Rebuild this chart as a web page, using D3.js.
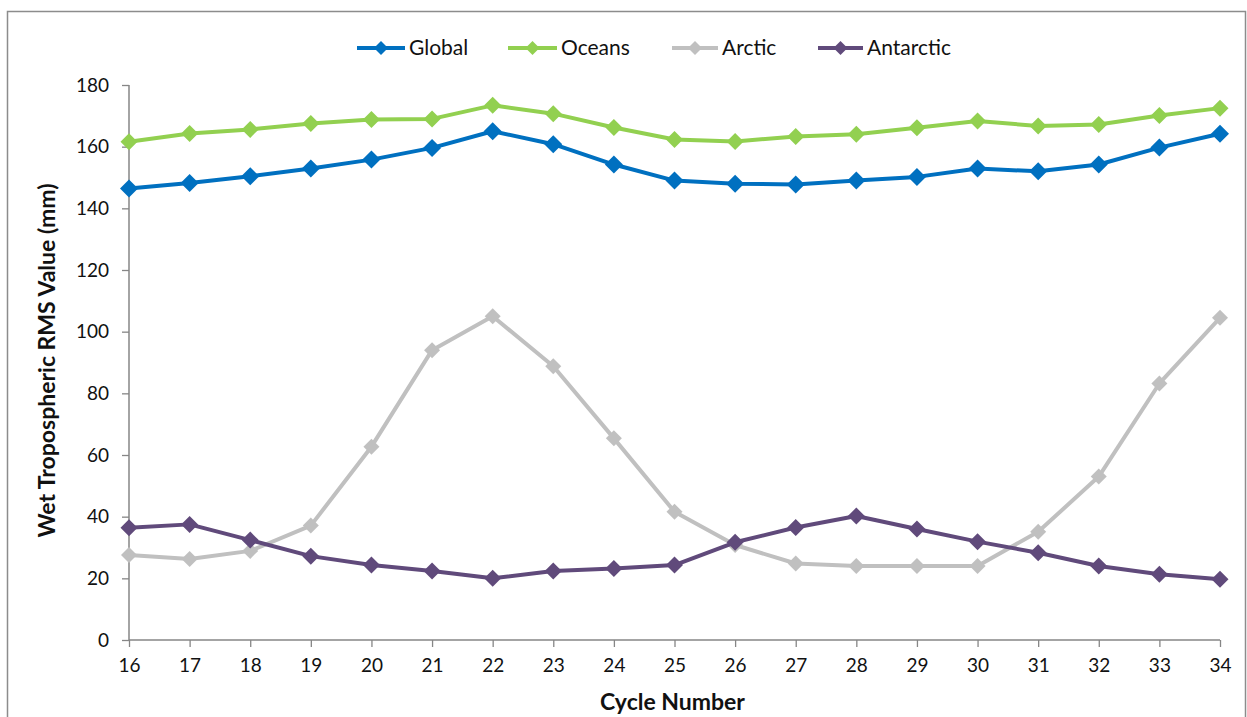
<!DOCTYPE html>
<html>
<head>
<meta charset="utf-8">
<script src="https://cdn.jsdelivr.net/npm/d3@7"></script>
<style>
  body { margin: 0; background: #fff; }
  svg { display: block; font-family: Lato, "Open Sans", sans-serif; }
</style>
</head>
<body>
<svg id="chart" width="1247" height="717"></svg>
<script>
const cycles = [16, 17, 18, 19, 20, 21, 22, 23, 24, 25, 26, 27, 28, 29, 30, 31, 32, 33, 34];
const globalVals = [146.4, 148.2, 150.4, 152.9, 155.8, 159.6, 165.0, 160.8, 154.2, 149.0, 148.0, 147.7, 149.0, 150.2, 152.9, 152.0, 154.2, 159.7, 164.2];
const oceansVals = [161.6, 164.3, 165.6, 167.5, 168.8, 169.0, 173.4, 170.7, 166.2, 162.3, 161.7, 163.3, 164.0, 166.1, 168.3, 166.7, 167.2, 170.1, 172.5];
const arcticVals = [27.6, 26.3, 28.9, 37.1, 62.7, 94.0, 105.0, 88.8, 65.4, 41.6, 30.8, 24.8, 24.0, 24.0, 24.0, 35.1, 53.0, 83.2, 104.5];
const antarcticVals = [36.4, 37.5, 32.4, 27.2, 24.3, 22.4, 20.0, 22.4, 23.2, 24.3, 31.7, 36.5, 40.2, 36.0, 31.9, 28.3, 24.0, 21.3, 19.7];
const yTicks = [0, 20, 40, 60, 80, 100, 120, 140, 160, 180];

const series = [
  { name: 'Global', values: globalVals, color: '#0070C0', size: 18 },
  { name: 'Oceans', values: oceansVals, color: '#92D050', size: 17 },
  { name: 'Arctic', values: arcticVals, color: '#C0C0C0', size: 16 },
  { name: 'Antarctic', values: antarcticVals, color: '#604A7B', size: 17 }
];

const svg = d3.select('#chart');
const width = 1247;
const height = 717;
const margin = { left: 129, right: 27, top: 85, bottom: 77 };

// chart frame
svg.append('rect')
  .attr('x', 7.5).attr('y', 11.5)
  .attr('width', 1238).attr('height', 720)
  .attr('fill', 'none')
  .attr('stroke', '#8c8c8c')
  .attr('stroke-width', 1.5);

const x = d3.scaleLinear()
  .domain([16, 34])
  .range([margin.left, width - margin.right]);
const y = d3.scaleLinear()
  .domain([0, 180])
  .range([height - margin.bottom, margin.top]);

const axisColor = '#868686';

const yAxis = svg.append('g')
  .attr('transform', `translate(${margin.left},0)`)
  .call(d3.axisLeft(y).tickValues(yTicks).tickSize(7).tickPadding(13));
const xAxis = svg.append('g')
  .attr('transform', `translate(0,${height - margin.bottom})`)
  .call(d3.axisBottom(x).tickValues(cycles).tickSize(7).tickPadding(12).tickFormat(d3.format('d')));

[xAxis, yAxis].forEach(ax => {
  ax.select('.domain').attr('stroke', axisColor).attr('stroke-width', 1.5);
  ax.selectAll('.tick line').attr('stroke', axisColor).attr('stroke-width', 1.3);
  ax.selectAll('.tick text')
    .attr('fill', '#111')
    .style('font-size', '19px')
    .style('font-family', 'Lato, "Open Sans", sans-serif');
});
// Excel style: domain without outer overhang
yAxis.select('.domain').attr('d', `M0,${y(0)}V${y(180)}`);
xAxis.select('.domain').attr('d', `M${x(16)},0H${x(34)}`);

const line = d3.line()
  .x((d, i) => x(cycles[i]))
  .y(d => y(d));

const diamond = s => `M0,${-s / 2}L${s / 2},0L0,${s / 2}L${-s / 2},0Z`;

// Arctic drawn first so the others sit on top
const order = [series[2], series[3], series[1], series[0]];
order.forEach(s => {
  const g = svg.append('g');
  g.append('path')
    .datum(s.values)
    .attr('d', line)
    .attr('fill', 'none')
    .attr('stroke', s.color)
    .attr('stroke-width', 4)
    .attr('stroke-linejoin', 'round');
  g.selectAll('path.marker')
    .data(s.values)
    .enter().append('path')
    .attr('class', 'marker')
    .attr('transform', (d, i) => `translate(${x(cycles[i])},${y(d)})`)
    .attr('d', diamond(s.size))
    .attr('fill', s.color);
});

// legend
const legendPos = [
  { x1: 357, text: 409 },
  { x1: 508, text: 561 },
  { x1: 672, text: 722 },
  { x1: 818, text: 867 }
];
const legendY = 48;
series.forEach((s, i) => {
  const p = legendPos[i];
  const g = svg.append('g');
  g.append('line')
    .attr('x1', p.x1).attr('x2', p.text - 4)
    .attr('y1', legendY).attr('y2', legendY)
    .attr('stroke', s.color)
    .attr('stroke-width', 4);
  g.append('path')
    .attr('transform', `translate(${(p.x1 + p.text - 4) / 2},${legendY})`)
    .attr('d', diamond(14))
    .attr('fill', s.color);
  g.append('text')
    .attr('x', p.text).attr('y', legendY)
    .attr('dy', '0.35em')
    .style('font-size', '21px')
    .attr('fill', '#111')
    .text(s.name);
});

// axis titles
svg.append('text')
  .attr('x', (x(16) + x(34)) / 2 - 2)
  .attr('y', 710)
  .attr('text-anchor', 'middle')
  .style('font-size', '23px')
  .style('font-weight', 'bold')
  .attr('fill', '#111')
  .text('Cycle Number');

svg.append('text')
  .attr('transform', `translate(55,${(y(0) + y(180)) / 2 - 2}) rotate(-90)`)
  .attr('text-anchor', 'middle')
  .style('font-size', '23px')
  .style('font-weight', 'bold')
  .attr('fill', '#111')
  .text('Wet Tropospheric RMS Value (mm)');
</script>
</body>
</html>
